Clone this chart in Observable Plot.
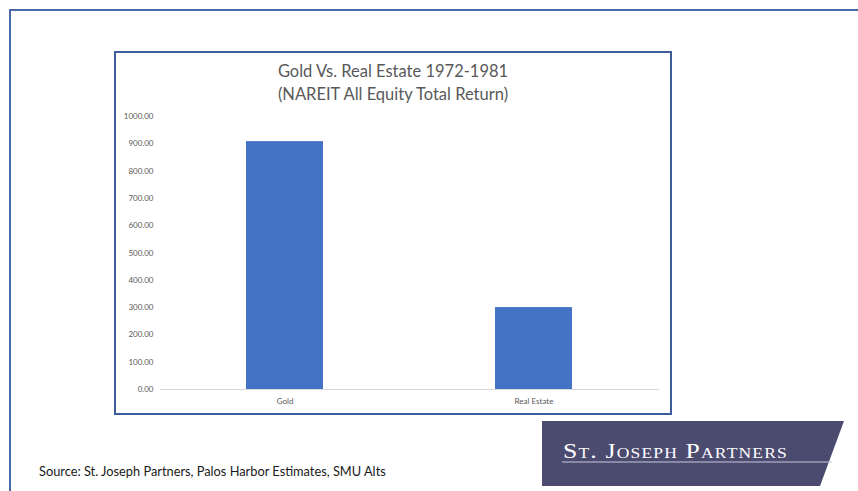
<!DOCTYPE html>
<html>
<head>
<meta charset="utf-8">
<script src="https://cdn.jsdelivr.net/npm/d3@7"></script>
<script src="https://cdn.jsdelivr.net/npm/@observablehq/plot@0.6"></script>
<style>
  html, body { margin: 0; padding: 0; background: #ffffff; overflow: hidden; }
  #page { position: relative; width: 858px; height: 491px; overflow: hidden; background: #fff; }
  #frame { position: absolute; left: 9px; top: 9px; width: 900px; height: 600px;
           border-top: 2px solid #4a68a6; border-left: 2px solid #4a68a6; }
  #box { position: absolute; left: 114px; top: 51px; width: 554px; height: 360px;
         border: 2px solid #3d5c9c; background: #fff; }
  #box svg { position: absolute; left: 0; top: 0; }
  .title { position: absolute; left: 0; width: 554px; text-align: center;
           font-family: Lato, "Open Sans", sans-serif; font-size: 16.5px; color: #595959; white-space: nowrap; }
  #source { position: absolute; left: 39px; top: 463px; font-family: Lato, "Open Sans", sans-serif;
            font-size: 12.8px; font-weight: 400; color: #1a1a1a; white-space: nowrap; }
  #logo { position: absolute; left: 542px; top: 421px; }
</style>
</head>
<body>
<div id="page">
  <div id="frame"></div>
  <div id="box">
    <div id="chart"></div>
    <div class="title" style="top:8px">Gold Vs. Real Estate 1972-1981</div>
    <div class="title" style="top:31px">(NAREIT All Equity Total Return)</div>
  </div>
  <div id="source">Source: St. Joseph Partners, Palos Harbor Estimates, SMU Alts</div>
  <svg id="logo" width="302" height="65" viewBox="0 0 302 65">
    <polygon points="0,0 302,0 278,65 0,65" fill="#4b4a6f"></polygon>
    <line x1="20" y1="41" x2="290" y2="41" stroke="#c9c8dc" stroke-width="1"></line>
    <text x="21" y="37" textLength="225" lengthAdjust="spacingAndGlyphs"
          font-family="'Liberation Serif', 'DejaVu Serif', serif" font-size="22" fill="#ffffff"
          style="font-variant: small-caps; letter-spacing: 1px">St. Joseph Partners</text>
  </svg>
</div>
<script>
const categories = ["Gold", "Real Estate"];
const values = [908, 300];
const yTicks = [0, 100, 200, 300, 400, 500, 600, 700, 800, 900, 1000];

const data = categories.map((c, i) => ({category: c, value: values[i]}));

const chart = Plot.plot({
  width: 554,
  height: 360,
  marginLeft: 44,
  marginRight: 11,
  marginTop: 63,
  marginBottom: 24,
  x: {domain: categories, paddingInner: 0.69, paddingOuter: 0.345},
  y: {domain: [0, 1000]},
  style: {fontFamily: "Lato, 'Open Sans', sans-serif", fontSize: "8px", color: "#595959", background: "transparent"},
  marks: [
    Plot.barY(data, {x: "category", y: "value", fill: "#4472c4"}),
    Plot.ruleY([0], {stroke: "#d9d9d9", strokeWidth: 1}),
    Plot.axisY(yTicks, {tickSize: 0, tickPadding: 7, tickFormat: d => d.toFixed(2), label: null}),
    Plot.axisX({tickSize: 0, tickPadding: 9, label: null})
  ]
});
document.getElementById("chart").appendChild(chart);
</script>
</body>
</html>
